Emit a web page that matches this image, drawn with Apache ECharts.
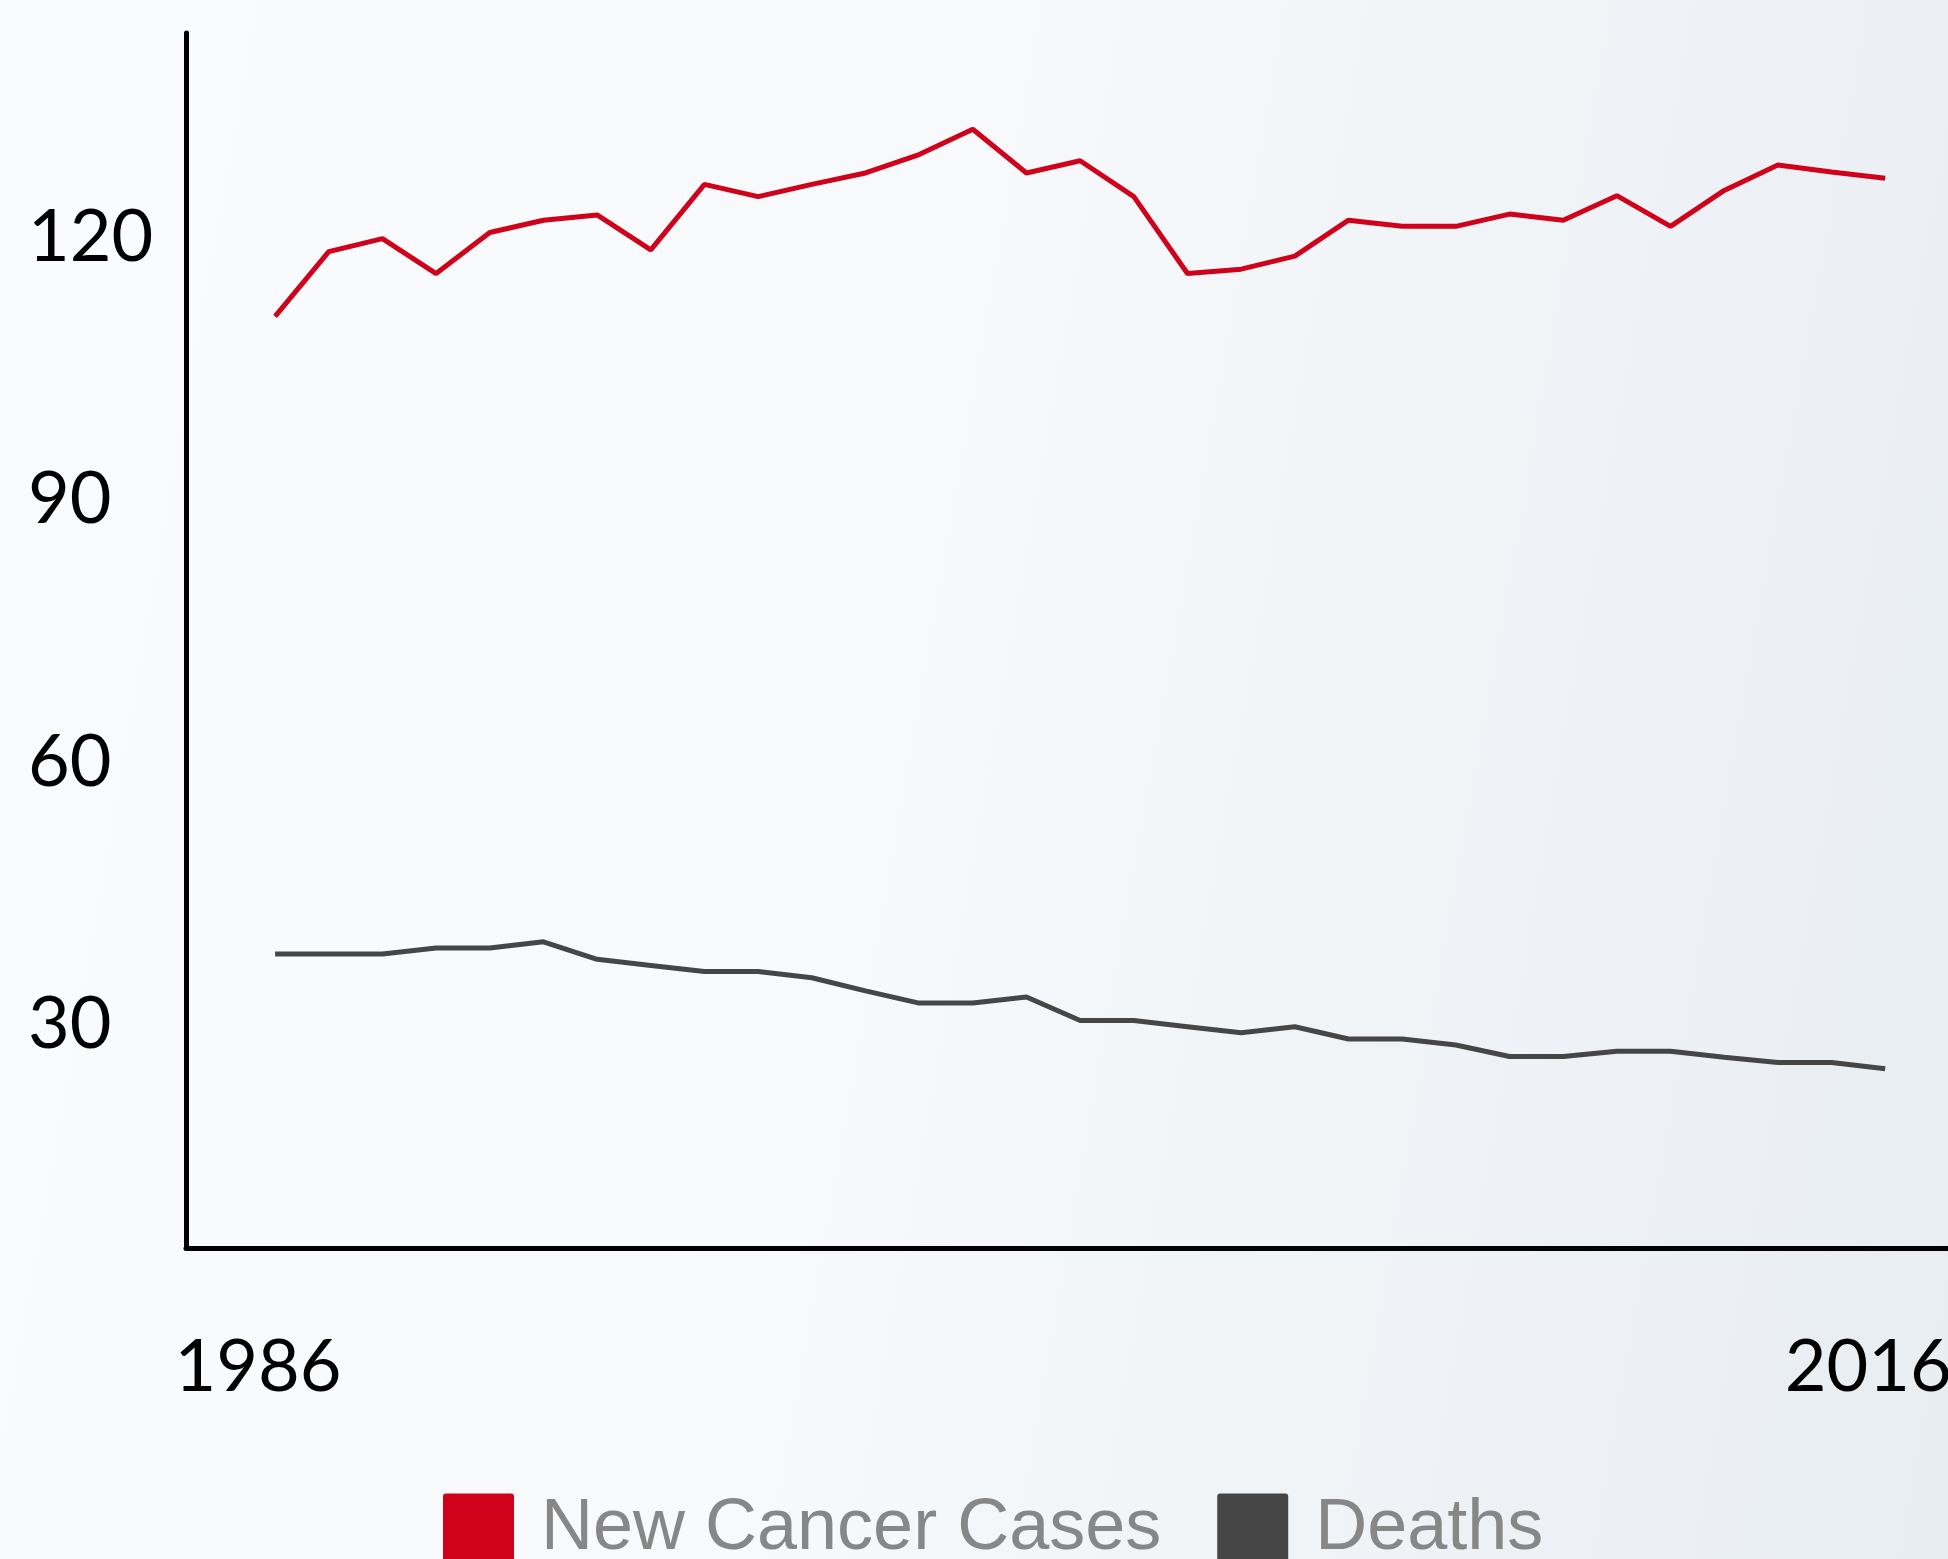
<!DOCTYPE html>
<html>
<head>
<meta charset="utf-8">
<script src="https://cdn.jsdelivr.net/npm/echarts@6/dist/echarts.min.js"></script>
<style>
html, body { margin: 0; padding: 0; }
#chart {
  width: 1948px;
  height: 1559px;
  background: linear-gradient(100deg, #fafbfc 0%, #f7f9fb 45%, #e8edf2 100%);
}
</style>
</head>
<body>
<div id="chart"></div>
<script>
var years = [1986, 1987, 1988, 1989, 1990, 1991, 1992, 1993, 1994, 1995,
  1996, 1997, 1998, 1999, 2000, 2001, 2002, 2003, 2004, 2005,
  2006, 2007, 2008, 2009, 2010, 2011, 2012, 2013, 2014, 2015, 2016];
var newCases = [111.0, 118.4, 119.9, 115.9, 120.6, 122.0, 122.6, 118.6, 126.1, 124.7,
  126.1, 127.4, 129.5, 132.4, 127.4, 128.8, 124.7, 115.9, 116.4, 117.9,
  122.0, 121.3, 121.3, 122.7, 122.0, 124.8, 121.3, 125.4, 128.3, 127.5, 126.8];
var deaths = [38.1, 38.1, 38.1, 38.8, 38.8, 39.5, 37.5, 36.8, 36.1, 36.1,
  35.4, 33.9, 32.5, 32.5, 33.2, 30.5, 30.5, 29.8, 29.1, 29.8,
  28.4, 28.4, 27.7, 26.4, 26.4, 27.0, 27.0, 26.3, 25.7, 25.7, 25.0];
var yTicks = [30, 60, 90, 120];
var xTicks = [1986, 2016];
var seriesNames = ["New Cancer Cases", "Deaths"];
var colors = ["#d0021b", "#464646"];

var myChart = echarts.init(document.getElementById("chart"));

function pairs(vals) {
  return years.map(function (y, i) { return [y, vals[i]]; });
}

// square legend keys with only slightly rounded corners
var keyIcon = "path://M3,0H68Q71,0,71,3V71H0V3Q0,0,3,0Z";

myChart.setOption({
  backgroundColor: "transparent",
  color: colors,
  animation: false,
  grid: {
    left: 186,
    right: 0,
    top: 33,
    bottom: 311,
    containLabel: false,
    outerBoundsMode: "none",
  },
  legend: {
    left: 438,
    top: 1488,
    itemWidth: 71,
    itemHeight: 71,
    itemGap: 56,
    icon: keyIcon,
    data: seriesNames,
    textStyle: {
      color: "#878787",
      fontFamily: "Liberation Sans",
      fontSize: 72,
      padding: [0, 0, 0, 22],
    },
  },
  xAxis: {
    type: "value",
    min: 1984.34,
    max: 2017.17,
    splitLine: { show: false },
    axisTick: { show: false },
    axisLine: { lineStyle: { color: "#000", width: 5 } },
    axisLabel: {
      customValues: xTicks,
      formatter: function (v) { return String(v); },
      margin: 84,
      padding: [0, 34, 0, 0],
      color: "#000",
      fontFamily: "Lato",
      fontSize: 72,
    },
  },
  yAxis: {
    type: "value",
    min: 4.5,
    max: 143.4,
    splitLine: { show: false },
    axisTick: { show: false },
    axisLine: { show: true, lineStyle: { color: "#000", width: 5 } },
    axisLabel: {
      customValues: yTicks,
      formatter: function (v) { return String(v); },
      align: "left",
      margin: 158,
      color: "#000",
      fontFamily: "Lato",
      fontSize: 72,
    },
  },
  series: [
    {
      name: seriesNames[0],
      type: "line",
      data: pairs(newCases),
      symbol: "none",
      lineStyle: { width: 5, color: colors[0] },
    },
    {
      name: seriesNames[1],
      type: "line",
      data: pairs(deaths),
      symbol: "none",
      lineStyle: { width: 5, color: colors[1] },
    },
  ],
});
</script>
</body>
</html>
